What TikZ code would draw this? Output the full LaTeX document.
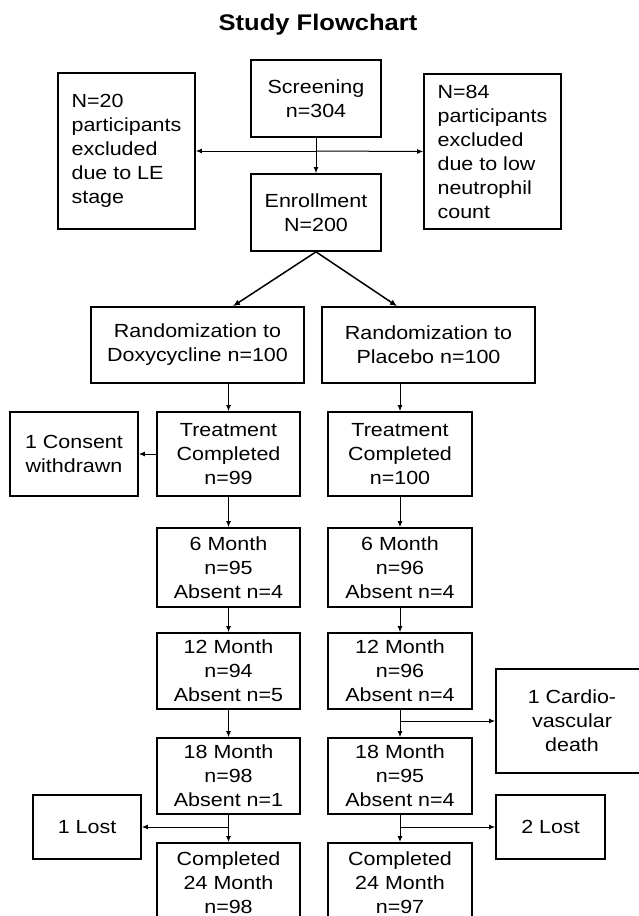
\documentclass[tikz,border=0pt]{standalone}
\usepackage{fontspec}
\setmainfont{Liberation Sans}[FakeStretch=1.13]
\usetikzlibrary{arrows.meta}
\begin{document}
\begin{tikzpicture}[x=1pt,y=-1pt,
  box/.style={draw,line width=1.7pt,rectangle,inner sep=0pt,align=center,
    font=\fontsize{19}{24}\selectfont},
  lbox/.style={box,align=left},
  arr/.style={line width=1pt,-{Latex[length=6pt,width=5pt]}},
  darr/.style={line width=1.5pt,-{Latex[length=7pt,width=6pt]}},
  title/.style={font=\bfseries\fontsize{22.6}{26}\selectfont}]
\useasboundingbox (0,0) rectangle (639,916);
\clip (0,0) rectangle (639,916);
\fill[white] (0,0) rectangle (639,916);

\node[title] (t) at (318,25) {Study Flowchart};

% top part
\node[box,minimum width=130pt,minimum height=77pt] (scr) at (316,98.5) {Screening\\n=304};
\node[lbox,minimum width=137pt,minimum height=156pt] (ex1) at (126.5,151) {N=20\\participants\\excluded\\due to LE\\stage};
\node[lbox,minimum width=137pt,minimum height=155pt] (ex2) at (492.5,151.5) {N=84\\participants\\excluded\\due to low\\neutrophil\\count};
\node[box,minimum width=130pt,minimum height=77pt] (enr) at (316,212.5) {Enrollment\\N=200};

% randomization
\node[box,minimum width=213pt,minimum height=76pt] (rd) at (197.5,345) {Randomization to\\Doxycycline n=100};
\node[box,minimum width=213pt,minimum height=76pt] (rp) at (428.5,345) {Randomization to\\Placebo n=100};

% left column
\node[box,minimum width=128pt,minimum height=84pt] (cons) at (74,454) {1 Consent\\withdrawn};
\node[box,minimum width=143pt,minimum height=84pt] (tl) at (228.5,454) {Treatment\\Completed\\n=99};
\node[box,minimum width=143pt,minimum height=79pt] (m6l) at (228.5,567.5) {6 Month\\n=95\\Absent n=4};
\node[box,minimum width=143pt,minimum height=76pt] (m12l) at (228.5,671) {12 Month\\n=94\\Absent n=5};
\node[box,minimum width=143pt,minimum height=76pt] (m18l) at (228.5,776) {18 Month\\n=98\\Absent n=1};
\node[box,minimum width=108pt,minimum height=64pt] (lost1) at (87,827) {1 Lost};
\node[box,minimum width=143pt,minimum height=80pt,anchor=north] (cl) at (228.5,842) {Completed\\24 Month\\n=98};

% right column
\node[box,minimum width=144pt,minimum height=84pt] (tr) at (400,454) {Treatment\\Completed\\n=100};
\node[box,minimum width=144pt,minimum height=79pt] (m6r) at (400,567.5) {6 Month\\n=96\\Absent n=4};
\node[box,minimum width=144pt,minimum height=76pt] (m12r) at (400,671) {12 Month\\n=96\\Absent n=4};
\node[box,minimum width=144pt,minimum height=76pt] (m18r) at (400,776) {18 Month\\n=95\\Absent n=4};
\node[box,minimum width=152pt,minimum height=104pt] (card) at (572,721) {1 Cardio-\\vascular\\death};
\node[box,minimum width=109pt,minimum height=64pt] (lost2) at (550.5,827) {2 Lost};
\node[box,minimum width=144pt,minimum height=80pt,anchor=north] (cr) at (400,842) {Completed\\24 Month\\n=97};

% connectors top
\draw[arr] (scr.south) -- (enr.north);
\coordinate (hub) at (scr.south |- ex1.east);
\draw[arr] (hub) -- (ex1.east);
\draw[arr] (hub) -- (ex2.west);

\coordinate (dl) at ([xshift=35.5pt]rd.north);
\coordinate (dr) at ([xshift=-31.5pt]rp.north);
\draw[darr] (enr.south) -- (dl);
\draw[darr] (enr.south) -- (dr);

% left column connectors
\draw[arr] (tl.north |- rd.south) -- (tl.north);
\draw[arr] (tl.west) -- (cons.east);
\draw[arr] (tl.south) -- (m6l.north);
\draw[arr] (m6l.south) -- (m12l.north);
\draw[arr] (m12l.south) -- (m18l.north);
\draw[arr] (m18l.south) -- (cl.north);
\draw[arr] (m18l.south |- lost1.east) -- (lost1.east);

% right column connectors
\draw[arr] (tr.north |- rp.south) -- (tr.north);
\draw[arr] (tr.south) -- (m6r.north);
\draw[arr] (m6r.south) -- (m12r.north);
\draw[arr] (m12r.south) -- (m18r.north);
\draw[arr] (m12r.south |- card.west) -- (card.west);
\draw[arr] (m18r.south) -- (cr.north);
\draw[arr] (m18r.south |- lost2.west) -- (lost2.west);
\end{tikzpicture}
\end{document}
